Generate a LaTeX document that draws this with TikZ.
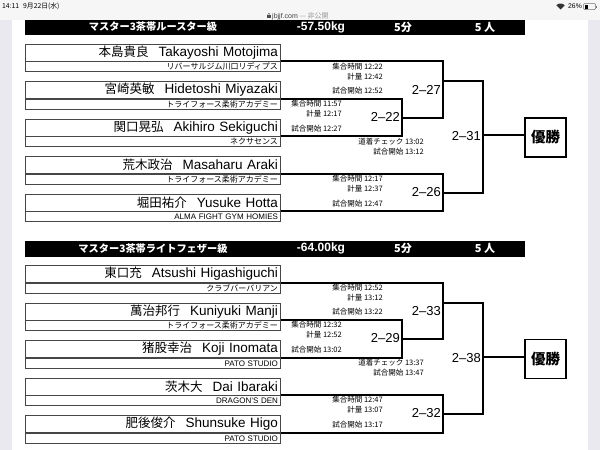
\documentclass[tikz,border=0pt]{standalone}
\usepackage{fontspec}
\setmainfont{Liberation Sans}
\newfontfamily\jpfont{Noto Sans CJK JP}
\usetikzlibrary{positioning}

\definecolor{sidegray}{RGB}{233,233,239}
\definecolor{statusgray}{RGB}{246,246,247}
\definecolor{boxgray}{RGB}{70,70,70}

\newcommand{\jpname}[1]{{\jpfont\fontsize{12.5}{12.5}\selectfont #1}\hspace{10pt}}

\tikzset{
    namebox/.style={draw=boxgray, line width=0.9pt, anchor=north west, text width=250pt,
        inner xsep=2.5pt, inner ysep=0pt, minimum height=17pt, align=right,
        font=\fontsize{13.5}{14}\selectfont},
    clubbox/.style={draw=boxgray, line width=0.9pt, text width=250pt, inner xsep=2.5pt,
        inner ysep=0pt, minimum height=10pt, align=right, font=\jpfont\fontsize{8}{8}\selectfont},
    bracket/.style={line width=2pt},
    matchno/.style={anchor=east, inner sep=0pt, font=\fontsize{13}{13}\selectfont},
    timetxt/.style={anchor=north east, inner sep=0pt, align=right,
        font=\jpfont\fontsize{7.5}{10}\selectfont},
    champbox/.style={draw, line width=1.3pt, minimum width=41pt, minimum height=39pt,
        inner sep=0pt, font=\jpfont\bfseries\fontsize{14.5}{14.5}\selectfont},
    headbar/.style={fill=black, minimum width=500pt, minimum height=16pt, inner sep=0pt},
    headtxt/.style={text=white, inner sep=0pt, font=\jpfont\bfseries\fontsize{10.2}{10.2}\selectfont}
}

\begin{document}
\begin{tikzpicture}[x=1pt, y=-1pt]
    \useasboundingbox (0,0) rectangle (600,450);
    % page and side margins
    \fill[sidegray] (0,0) rectangle (600,450);
    \fill[white] (12,20) rectangle (588,450);

    % Rooster class
    \node[headbar] (barA) at (275,27) {};
    \node[headtxt] (classA) at (153,27) {マスター3茶帯ルースター級};
    \node[headtxt, font=\bfseries\fontsize{12}{12}\selectfont] (weightA) at (321,27) {-57.50kg};
    \node[headtxt, font=\jpfont\bfseries\fontsize{11}{11}\selectfont] (minA) at (403,27) {5分};
    \node[headtxt, font=\jpfont\bfseries\fontsize{11}{11}\selectfont] (countA) at (485,27) {5 人};

    \node[namebox] (motojima) at (25,43.5) {\jpname{本島貴良}Takayoshi Motojima};
    \node[clubbox, below=0pt of motojima] (motojimaclub) {リバーサルジム川口リディプス};
    \node[namebox] (miyazaki) at (25,81) {\jpname{宮崎英敏}Hidetoshi Miyazaki};
    \node[clubbox, below=0pt of miyazaki] (miyazakiclub) {トライフォース柔術アカデミー};
    \node[namebox] (sekiguchi) at (25,118.5) {\jpname{関口晃弘}Akihiro Sekiguchi};
    \node[clubbox, below=0pt of sekiguchi] (sekiguchiclub) {ネクサセンス};
    \node[namebox] (araki) at (25,156) {\jpname{荒木政治}Masaharu Araki};
    \node[clubbox, below=0pt of araki] (arakiclub) {トライフォース柔術アカデミー};
    \node[namebox] (hotta) at (25,193.5) {\jpname{堀田祐介}Yusuke Hotta};
    \node[clubbox, below=0pt of hotta, font=\fontsize{8}{8}\selectfont] (hottaclub) {ALMA FIGHT GYM HOMIES};

    \coordinate (w27) at (443,81);
    \coordinate (w22) at (402,117.5);
    \coordinate (w26) at (443,192.5);
    \coordinate (w31) at (483,135);

    \draw[bracket] (miyazaki.south east) -| (w22) |- (sekiguchi.south east);
    \draw[bracket] (motojima.south east) -| (w27) |- (w22);
    \draw[bracket] (araki.south east) -| (w26) |- (hotta.south east);
    \draw[bracket] (w27) -| (w31) |- (w26);
    \node[champbox] (champA) at (545.5,137.5) {優勝};
    \draw[bracket] (w31) -- (w31 -| champA.west);

    \node[matchno] (m27) at (441,89.5) {2--27};
    \node[matchno] (m22) at (400,116.5) {2--22};
    \node[matchno] (m31) at (481,136.5) {2--31};
    \node[matchno] (m26) at (441,192) {2--26};

    \node[timetxt] (t27) at (383,62.5) {集合時間 12:22\\計量 12:42\\[4pt]試合開始 12:52};
    \node[timetxt] (t22) at (342,99.5) {集合時間 11:57\\計量 12:17\\[5pt]試合開始 12:27};
    \node[timetxt] (chkA) at (424,137.5) {道着チェック 13:02\\試合開始 13:12};
    \node[timetxt] (t26) at (383,174.5) {集合時間 12:17\\計量 12:37\\[5pt]試合開始 12:47};

    % Light feather class
    \begin{scope}[yshift=-221.5pt]
    \node[headbar] (barB) at (275,27) {};
    \node[headtxt] (classB) at (153,27) {マスター3茶帯ライトフェザー級};
    \node[headtxt, font=\bfseries\fontsize{12}{12}\selectfont] (weightB) at (321,27) {-64.00kg};
    \node[headtxt, font=\jpfont\bfseries\fontsize{11}{11}\selectfont] (minB) at (403,27) {5分};
    \node[headtxt, font=\jpfont\bfseries\fontsize{11}{11}\selectfont] (countB) at (485,27) {5 人};

    \node[namebox] (higashiguchi) at (25,43.5) {\jpname{東口充}Atsushi Higashiguchi};
    \node[clubbox, below=0pt of higashiguchi] (higashiguchiclub) {クラブバーバリアン};
    \node[namebox] (manji) at (25,81) {\jpname{萬治邦行}Kuniyuki Manji};
    \node[clubbox, below=0pt of manji] (manjiclub) {トライフォース柔術アカデミー};
    \node[namebox] (inomata) at (25,118.5) {\jpname{猪股幸治}Koji Inomata};
    \node[clubbox, below=0pt of inomata, font=\fontsize{8}{8}\selectfont] (inomataclub) {PATO STUDIO};
    \node[namebox] (ibaraki) at (25,156) {\jpname{茨木大}Dai Ibaraki};
    \node[clubbox, below=0pt of ibaraki, font=\fontsize{8}{8}\selectfont] (ibarakiclub) {DRAGON'S DEN};
    \node[namebox] (higo) at (25,193.5) {\jpname{肥後俊介}Shunsuke Higo};
    \node[clubbox, below=0pt of higo, font=\fontsize{8}{8}\selectfont] (higoclub) {PATO STUDIO};

    \coordinate (w33) at (443,81);
    \coordinate (w29) at (402,117.5);
    \coordinate (w32) at (443,192.5);
    \coordinate (w38) at (483,135);

    \draw[bracket] (manji.south east) -| (w29) |- (inomata.south east);
    \draw[bracket] (higashiguchi.south east) -| (w33) |- (w29);
    \draw[bracket] (ibaraki.south east) -| (w32) |- (higo.south east);
    \draw[bracket] (w33) -| (w38) |- (w32);
    \node[champbox] (champB) at (545.5,137.5) {優勝};
    \draw[bracket] (w38) -- (w38 -| champB.west);

    \node[matchno] (m33) at (441,89.5) {2--33};
    \node[matchno] (m29) at (400,116.5) {2--29};
    \node[matchno] (m38) at (481,136.5) {2--38};
    \node[matchno] (m32) at (441,192) {2--32};

    \node[timetxt] (t33) at (383,62.5) {集合時間 12:52\\計量 13:12\\[4pt]試合開始 13:22};
    \node[timetxt] (t29) at (342,99.5) {集合時間 12:32\\計量 12:52\\[5pt]試合開始 13:02};
    \node[timetxt] (chkB) at (424,137.5) {道着チェック 13:37\\試合開始 13:47};
    \node[timetxt] (t32) at (383,174.5) {集合時間 12:47\\計量 13:07\\[5pt]試合開始 13:17};
    \end{scope}

    % status bar
    \fill[statusgray] (0,0) rectangle (600,20);
    \node[anchor=west, inner sep=0pt, font=\jpfont\fontsize{6.8}{7}\selectfont] (clock) at (2,6.5) {14:11\hspace{4pt}9月22日(水)};
    \fill[black!70] (267,14.5) rectangle (270.6,18);
    \draw[black!70, line width=0.5pt] (267.6,14.5) arc[start angle=-180, end angle=0, radius=1.2];
    \node[anchor=west, inner sep=0pt, font=\fontsize{7}{7}\selectfont, text=black!75] (url) at (272,16) {jbjjf.com {\color{black!40}\jpfont — 非公開}};
    \fill[black!80] (560.5,9.5) -- ++(-45:6) arc[start angle=-45, end angle=-135, radius=6] -- cycle;
    \node[anchor=east, inner sep=0pt, font=\fontsize{6.8}{7}\selectfont] (battery) at (582,6.5) {26\%};
    \draw[black!55, line width=0.5pt, rounded corners=1pt] (583.5,3.5) rectangle (595.5,9.5);
    \fill[black] (584.5,4.5) rectangle (587.5,8.5);
    \fill[black!55] (596,5.5) rectangle (597,7.5);
\end{tikzpicture}
\end{document}
